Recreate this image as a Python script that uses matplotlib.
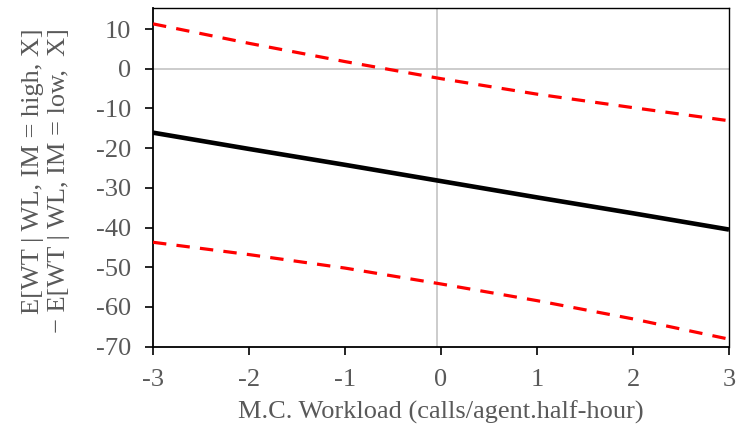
import matplotlib
matplotlib.use("Agg")
import matplotlib.pyplot as plt

plt.rcParams['font.family'] = ['Liberation Serif', 'DejaVu Serif']
plt.rcParams['axes.unicode_minus'] = False

# Data
workload = [-3, -2, -1, 0, 1, 2, 3]
effect = [-16.1, -20.2, -24.2, -28.3, -32.4, -36.4, -40.5]
upper_ci = [11.3, 6.4, 1.8, -2.5, -6.4, -9.8, -13.1]
lower_ci = [-43.7, -46.8, -50.2, -54.2, -58.4, -63.0, -68.1]
x_ticks = [-3, -2, -1, 0, 1, 2, 3]
y_ticks = [10, 0, -10, -20, -30, -40, -50, -60, -70]
zero_x = -0.045

text_color = '#595959'
grid_color = '#BFBFBF'

fig = plt.figure(figsize=(7.36, 4.36), dpi=100)
ax = fig.add_axes([0.2079, 0.2048, 0.9905 - 0.2079, 0.9817 - 0.2048])

ax.axhline(0, color=grid_color, lw=1.1, zorder=1)
ax.axvline(zero_x, color=grid_color, lw=1.1, zorder=1)

ax.plot(workload, effect, color='black', lw=3.3, solid_capstyle='butt', zorder=3)
for band in (upper_ci, lower_ci):
    ax.plot(workload, band, color='#FF0000', lw=2.3, dashes=(4.2, 3.2),
            dash_capstyle='butt', zorder=3)

ax.set_xlim(-3, 3)
ax.set_ylim(-70, 15.3)
ax.set_xticks(x_ticks)
ax.set_yticks(y_ticks)
ax.set_xticklabels([str(v) for v in x_ticks])
ax.set_yticklabels([str(v) for v in y_ticks])

for s in ax.spines.values():
    s.set_color('black')
    s.set_linewidth(1.0)
ax.spines['left'].set_linewidth(1.3)
ax.spines['bottom'].set_linewidth(1.3)

ax.tick_params(axis='both', direction='out', length=6, width=1.2, color='black',
               labelsize=19, labelcolor=text_color)
ax.tick_params(axis='x', pad=10)
ax.tick_params(axis='y', pad=10)

ax.set_xlabel('M.C. Workload (calls/agent.half-hour)', fontsize=19,
              color=text_color, labelpad=7)

fig.text(0.062, 0.585, 'E[WT | WL, IM = high, X]\n\u2212 E[WT | WL, IM = low,  X]',
         rotation=90, ha='center', va='center', multialignment='right',
         fontsize=19, color=text_color, linespacing=1.25)

fig.savefig('out.png', dpi=100)
